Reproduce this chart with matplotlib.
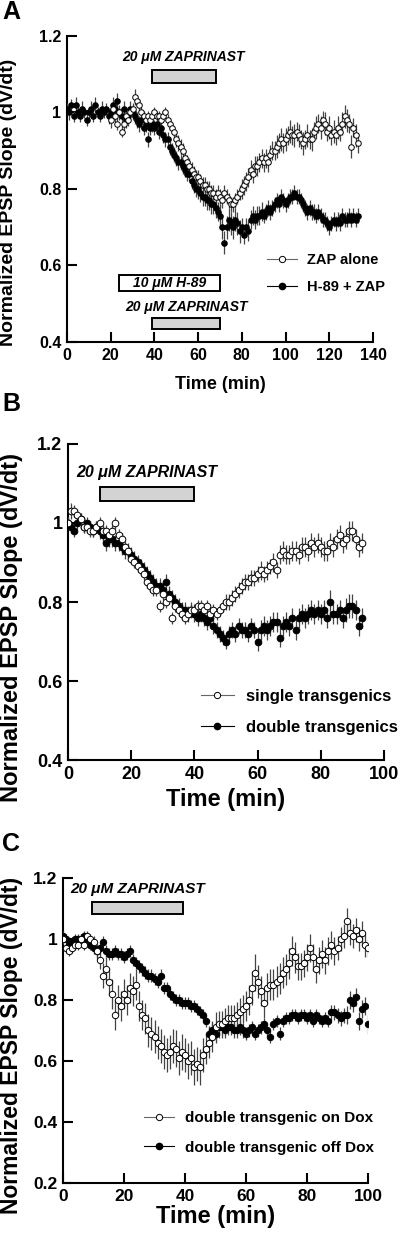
import numpy as np
import matplotlib
matplotlib.use("Agg")
from matplotlib import pyplot as plt
from matplotlib.patches import Rectangle
from matplotlib.lines import Line2D

plt.rcParams['font.family'] = ['Liberation Sans', 'DejaVu Sans']
plt.rcParams['font.weight'] = 'bold'

# ---------------- Panel A data ----------------
a_black_t = np.arange(0, 134)
a_black = [
    1.01, 1.00, 1.02, 0.99, 1.02, 1.00, 0.99, 1.01, 1.00, 0.98,
    1.00, 1.01, 0.99, 1.02, 1.00, 0.99, 1.01, 1.00, 1.01, 0.99,
    1.00, 1.02, 1.01, 1.03, 1.00, 0.99, 1.01, 0.98, 0.99, 1.01,
    1.00, 0.99, 0.98, 0.97, 0.98, 0.96, 0.97, 0.93, 0.96, 0.97,
    0.96, 0.97, 0.95, 0.96, 0.94, 0.93, 0.93, 0.91, 0.90, 0.89,
    0.88, 0.87, 0.87, 0.86, 0.85, 0.84, 0.84, 0.82, 0.81, 0.80,
    0.80, 0.79, 0.78, 0.78, 0.77, 0.77, 0.76, 0.76, 0.75, 0.74,
    0.73, 0.70, 0.66, 0.70, 0.72, 0.71, 0.70, 0.72, 0.71, 0.69,
    0.70, 0.68, 0.70, 0.69, 0.72, 0.73, 0.72, 0.73, 0.73, 0.74,
    0.73, 0.74, 0.75, 0.74, 0.75, 0.76, 0.77, 0.76, 0.78, 0.77,
    0.76, 0.77, 0.78, 0.78, 0.79, 0.78, 0.78, 0.77, 0.76, 0.75,
    0.74, 0.75, 0.74, 0.74, 0.73, 0.74, 0.73, 0.72, 0.72, 0.71,
    0.70, 0.71, 0.72, 0.71, 0.72, 0.71, 0.73, 0.72, 0.72, 0.73,
    0.72, 0.73, 0.72, 0.73,
]
a_black_err = [
    0.015, 0.020, 0.015, 0.015, 0.020, 0.015, 0.015, 0.020, 0.015, 0.015,
    0.015, 0.020, 0.015, 0.020, 0.015, 0.015, 0.020, 0.015, 0.015, 0.020,
    0.020, 0.020, 0.015, 0.020, 0.020, 0.015, 0.020, 0.020, 0.020, 0.020,
    0.020, 0.020, 0.020, 0.020, 0.020, 0.020, 0.020, 0.020, 0.020, 0.020,
    0.020, 0.020, 0.020, 0.020, 0.020, 0.020, 0.020, 0.020, 0.020, 0.020,
    0.020, 0.020, 0.020, 0.020, 0.020, 0.020, 0.020, 0.020, 0.020, 0.020,
    0.025, 0.025, 0.025, 0.025, 0.025, 0.025, 0.025, 0.025, 0.025, 0.025,
    0.030, 0.030, 0.030, 0.030, 0.030, 0.030, 0.030, 0.030, 0.030, 0.030,
    0.025, 0.025, 0.025, 0.025, 0.025, 0.025, 0.025, 0.025, 0.025, 0.025,
    0.020, 0.020, 0.020, 0.020, 0.020, 0.020, 0.020, 0.020, 0.020, 0.020,
    0.020, 0.020, 0.020, 0.020, 0.020, 0.020, 0.020, 0.020, 0.020, 0.020,
    0.020, 0.020, 0.020, 0.020, 0.020, 0.020, 0.020, 0.020, 0.020, 0.020,
    0.020, 0.020, 0.020, 0.020, 0.020, 0.020, 0.020, 0.020, 0.020, 0.020,
    0.020, 0.020, 0.020, 0.020,
]
a_open_t = np.arange(20, 134)
a_open = [
    0.98, 1.01, 0.99, 0.97, 1.00, 0.95, 0.97, 0.99, 0.98, 1.00,
    1.01, 1.04, 1.03, 1.02, 1.00, 0.99, 0.98, 0.99, 0.98, 0.99,
    1.00, 0.99, 0.99, 0.98, 0.99, 1.00, 0.98, 0.97, 0.96, 0.95,
    0.93, 0.92, 0.91, 0.90, 0.88, 0.87, 0.86, 0.85, 0.84, 0.83,
    0.83, 0.82, 0.81, 0.81, 0.80, 0.80, 0.79, 0.79, 0.78, 0.79,
    0.78, 0.77, 0.79, 0.78, 0.77, 0.76, 0.76, 0.77, 0.78, 0.79,
    0.80, 0.81, 0.82, 0.83, 0.85, 0.84, 0.86, 0.86, 0.87, 0.88,
    0.87, 0.88, 0.87, 0.89, 0.90, 0.90, 0.91, 0.92, 0.93, 0.92,
    0.93, 0.94, 0.95, 0.94, 0.94, 0.95, 0.94, 0.93, 0.92, 0.93,
    0.94, 0.93, 0.93, 0.95, 0.96, 0.97, 0.96, 0.98, 0.97, 0.95,
    0.96, 0.94, 0.95, 0.94, 0.96, 0.95, 0.97, 0.99, 0.98, 0.97,
    0.91, 0.96, 0.94, 0.92,
]
a_open_err = [
    0.020, 0.015, 0.015, 0.015, 0.015, 0.015, 0.015, 0.015, 0.015, 0.015,
    0.015, 0.020, 0.015, 0.015, 0.015, 0.015, 0.015, 0.015, 0.015, 0.015,
    0.015, 0.015, 0.015, 0.015, 0.015, 0.015, 0.015, 0.015, 0.015, 0.015,
    0.020, 0.020, 0.020, 0.020, 0.020, 0.020, 0.020, 0.020, 0.020, 0.020,
    0.020, 0.020, 0.020, 0.020, 0.020, 0.020, 0.020, 0.020, 0.020, 0.020,
    0.020, 0.020, 0.020, 0.020, 0.020, 0.020, 0.020, 0.020, 0.020, 0.020,
    0.025, 0.025, 0.025, 0.025, 0.025, 0.025, 0.025, 0.025, 0.025, 0.025,
    0.025, 0.025, 0.025, 0.025, 0.025, 0.025, 0.030, 0.025, 0.030, 0.025,
    0.030, 0.025, 0.030, 0.025, 0.030, 0.025, 0.030, 0.025, 0.030, 0.025,
    0.030, 0.025, 0.030, 0.025, 0.030, 0.025, 0.030, 0.025, 0.030, 0.025,
    0.030, 0.025, 0.030, 0.025, 0.030, 0.025, 0.030, 0.030, 0.030, 0.025,
    0.030, 0.025, 0.030, 0.025,
]

# ---------------- Panel B data ----------------
b_t = np.arange(0, 94)
b_open = [
    1.00, 1.03, 1.03, 1.02, 1.01, 0.99, 0.99, 0.98, 0.98, 0.99,
    1.00, 0.98, 0.98, 0.97, 0.98, 1.00, 0.97, 0.96, 0.94, 0.93,
    0.91, 0.90, 0.89, 0.88, 0.87, 0.85, 0.84, 0.83, 0.83, 0.79,
    0.82, 0.80, 0.81, 0.76, 0.79, 0.78, 0.77, 0.76, 0.77, 0.78,
    0.78, 0.79, 0.79, 0.78, 0.79, 0.77, 0.78, 0.77, 0.78, 0.79,
    0.80, 0.80, 0.81, 0.82, 0.83, 0.84, 0.85, 0.85, 0.86, 0.86,
    0.87, 0.88, 0.87, 0.88, 0.89, 0.90, 0.88, 0.92, 0.93, 0.92,
    0.92, 0.93, 0.93, 0.92, 0.94, 0.94, 0.93, 0.95, 0.94, 0.95,
    0.94, 0.93, 0.93, 0.95, 0.94, 0.96, 0.97, 0.95, 0.96, 0.98,
    0.98, 0.96, 0.94, 0.95,
]
b_open_err = [
    0.015, 0.020, 0.015, 0.015, 0.015, 0.015, 0.015, 0.015, 0.015, 0.015,
    0.015, 0.015, 0.015, 0.015, 0.015, 0.015, 0.015, 0.015, 0.015, 0.015,
    0.015, 0.015, 0.015, 0.015, 0.015, 0.015, 0.015, 0.015, 0.015, 0.015,
    0.015, 0.015, 0.015, 0.015, 0.015, 0.015, 0.015, 0.015, 0.015, 0.015,
    0.015, 0.015, 0.015, 0.015, 0.015, 0.015, 0.015, 0.015, 0.015, 0.015,
    0.020, 0.020, 0.020, 0.020, 0.020, 0.020, 0.020, 0.020, 0.020, 0.020,
    0.020, 0.025, 0.020, 0.025, 0.020, 0.025, 0.020, 0.025, 0.025, 0.025,
    0.025, 0.025, 0.025, 0.025, 0.025, 0.025, 0.025, 0.025, 0.025, 0.025,
    0.025, 0.025, 0.025, 0.025, 0.025, 0.025, 0.025, 0.025, 0.025, 0.025,
    0.025, 0.025, 0.025, 0.025,
]
b_black = [
    1.00, 0.99, 0.98, 1.00, 1.01, 0.99, 1.00, 0.99, 0.98, 0.99,
    0.98, 0.97, 0.95, 0.96, 0.96, 0.95, 0.95, 0.94, 0.93, 0.93,
    0.92, 0.91, 0.90, 0.89, 0.88, 0.87, 0.86, 0.85, 0.84, 0.84,
    0.83, 0.85, 0.82, 0.81, 0.80, 0.79, 0.78, 0.78, 0.77, 0.78,
    0.77, 0.76, 0.77, 0.76, 0.75, 0.76, 0.74, 0.73, 0.72, 0.71,
    0.70, 0.72, 0.73, 0.72, 0.74, 0.73, 0.73, 0.72, 0.74, 0.73,
    0.70, 0.73, 0.74, 0.73, 0.74, 0.75, 0.75, 0.71, 0.74, 0.75,
    0.74, 0.76, 0.73, 0.76, 0.77, 0.76, 0.77, 0.78, 0.77, 0.78,
    0.77, 0.78, 0.76, 0.80, 0.77, 0.77, 0.78, 0.76, 0.78, 0.79,
    0.79, 0.78, 0.74, 0.76,
]
b_black_err = [
    0.015, 0.015, 0.015, 0.015, 0.015, 0.015, 0.015, 0.015, 0.015, 0.015,
    0.020, 0.020, 0.020, 0.020, 0.020, 0.020, 0.020, 0.020, 0.020, 0.020,
    0.020, 0.020, 0.020, 0.020, 0.020, 0.020, 0.020, 0.020, 0.020, 0.020,
    0.020, 0.020, 0.020, 0.020, 0.020, 0.020, 0.020, 0.020, 0.020, 0.020,
    0.020, 0.020, 0.020, 0.020, 0.020, 0.020, 0.020, 0.020, 0.020, 0.020,
    0.020, 0.020, 0.020, 0.020, 0.020, 0.020, 0.020, 0.020, 0.020, 0.020,
    0.025, 0.025, 0.025, 0.025, 0.025, 0.025, 0.025, 0.025, 0.025, 0.025,
    0.025, 0.025, 0.025, 0.025, 0.025, 0.025, 0.025, 0.025, 0.025, 0.025,
    0.025, 0.025, 0.025, 0.030, 0.025, 0.025, 0.025, 0.025, 0.030, 0.030,
    0.030, 0.025, 0.025, 0.025,
]

# ---------------- Panel C data ----------------
c_t = np.arange(0, 101)
c_open = [
    1.00, 0.97, 0.96, 0.97, 0.98, 0.98, 1.00, 0.98, 1.01, 1.00,
    0.99, 0.96, 0.93, 0.88, 0.90, 0.86, 0.82, 0.75, 0.80, 0.78,
    0.82, 0.80, 0.84, 0.83, 0.85, 0.78, 0.75, 0.74, 0.70, 0.69,
    0.68, 0.66, 0.65, 0.63, 0.62, 0.63, 0.65, 0.64, 0.61, 0.63,
    0.62, 0.60, 0.61, 0.58, 0.59, 0.58, 0.62, 0.64, 0.66, 0.68,
    0.71, 0.72, 0.72, 0.73, 0.74, 0.74, 0.74, 0.75, 0.76, 0.77,
    0.78, 0.80, 0.84, 0.89, 0.86, 0.83, 0.79, 0.84, 0.85, 0.85,
    0.86, 0.87, 0.89, 0.90, 0.92, 0.96, 0.94, 0.91, 0.91, 0.92,
    0.94, 0.97, 0.94, 0.90, 0.93, 0.95, 0.93, 0.96, 0.98, 0.96,
    0.97, 1.00, 1.01, 1.06, 1.02, 1.01, 1.03, 1.00, 1.02, 0.98,
    0.97,
]
c_open_err = [
    0.015, 0.015, 0.015, 0.015, 0.015, 0.015, 0.015, 0.015, 0.015, 0.015,
    0.020, 0.025, 0.030, 0.040, 0.040, 0.045, 0.050, 0.050, 0.050, 0.050,
    0.050, 0.050, 0.050, 0.050, 0.050, 0.050, 0.050, 0.050, 0.055, 0.055,
    0.055, 0.055, 0.055, 0.055, 0.055, 0.055, 0.055, 0.060, 0.055, 0.060,
    0.055, 0.060, 0.055, 0.060, 0.055, 0.060, 0.055, 0.050, 0.050, 0.050,
    0.050, 0.045, 0.045, 0.045, 0.045, 0.045, 0.045, 0.045, 0.045, 0.045,
    0.050, 0.050, 0.055, 0.060, 0.055, 0.050, 0.050, 0.050, 0.050, 0.050,
    0.050, 0.050, 0.050, 0.050, 0.050, 0.050, 0.050, 0.045, 0.045, 0.045,
    0.045, 0.045, 0.045, 0.045, 0.045, 0.045, 0.045, 0.045, 0.045, 0.045,
    0.040, 0.040, 0.040, 0.040, 0.040, 0.040, 0.040, 0.040, 0.040, 0.040,
    0.030,
]
c_black = [
    1.01, 1.00, 0.98, 0.99, 1.00, 1.00, 1.00, 1.01, 1.00, 0.98,
    0.97, 0.96, 0.97, 0.99, 0.96, 0.95, 0.95, 0.96, 0.95, 0.95,
    0.94, 0.95, 0.96, 0.93, 0.92, 0.91, 0.90, 0.89, 0.88, 0.88,
    0.87, 0.86, 0.88, 0.84, 0.84, 0.82, 0.81, 0.80, 0.80, 0.79,
    0.79, 0.79, 0.78, 0.78, 0.77, 0.76, 0.75, 0.73, 0.69, 0.70,
    0.69, 0.71, 0.71, 0.70, 0.71, 0.71, 0.70, 0.70, 0.71, 0.70,
    0.69, 0.70, 0.71, 0.69, 0.70, 0.71, 0.72, 0.70, 0.68, 0.72,
    0.73, 0.69, 0.73, 0.74, 0.74, 0.75, 0.75, 0.74, 0.75, 0.75,
    0.74, 0.75, 0.73, 0.75, 0.74, 0.73, 0.74, 0.73, 0.76, 0.76,
    0.75, 0.74, 0.75, 0.75, 0.80, 0.79, 0.81, 0.73, 0.77, 0.78,
    0.72,
]
c_black_err = [
    0.015, 0.015, 0.015, 0.015, 0.015, 0.015, 0.015, 0.015, 0.015, 0.015,
    0.020, 0.020, 0.020, 0.020, 0.020, 0.020, 0.020, 0.020, 0.020, 0.020,
    0.020, 0.020, 0.020, 0.020, 0.020, 0.020, 0.020, 0.020, 0.020, 0.020,
    0.020, 0.020, 0.020, 0.020, 0.020, 0.020, 0.020, 0.020, 0.020, 0.020,
    0.020, 0.020, 0.020, 0.020, 0.020, 0.020, 0.020, 0.020, 0.025, 0.025,
    0.025, 0.025, 0.025, 0.025, 0.025, 0.025, 0.025, 0.025, 0.025, 0.025,
    0.020, 0.020, 0.020, 0.020, 0.020, 0.020, 0.020, 0.020, 0.020, 0.020,
    0.020, 0.020, 0.020, 0.020, 0.020, 0.020, 0.020, 0.020, 0.020, 0.020,
    0.020, 0.020, 0.020, 0.020, 0.020, 0.020, 0.020, 0.020, 0.025, 0.025,
    0.025, 0.025, 0.025, 0.030, 0.030, 0.030, 0.030, 0.030, 0.030, 0.030,
    0.030,
]

# drug application windows (min) and bar heights (normalized units)
a_zap_top = (39, 68, 1.077, 1.111)
a_h89 = (24, 70, 0.533, 0.575)
a_zap_bottom = (39, 70, 0.434, 0.463)
b_zap = (10, 40, 1.056, 1.091)
c_zap = (9.5, 39.5, 1.082, 1.121)

ylabel_text = 'Normalized EPSP Slope (dV/dt)'
zap_text = '20 \u03bcM ZAPRINAST'
h89_text = '10 \u03bcM H-89'


def drug_bar(ax, win, fill='#d3d3d3', label=None, label_y=None, fs=9, inside=None):
    x0, x1, y0, y1 = win
    ax.add_patch(Rectangle((x0, y0), x1 - x0, y1 - y0, facecolor=fill,
                           edgecolor='black', linewidth=1.4, zorder=5))
    if label is not None:
        ax.text((x0 + x1) / 2, label_y, label, ha='center', va='center',
                fontsize=fs, fontweight='bold', fontstyle='italic', zorder=6)
    if inside is not None:
        ax.text((x0 + x1) / 2, (y0 + y1) / 2, inside, ha='center', va='center',
                fontsize=fs, fontweight='bold', fontstyle='italic', zorder=6)


def series(ax, t, y, err, filled, ms):
    ax.errorbar(t, y, yerr=err, fmt='o', ms=ms, mfc='black' if filled else 'white',
                mec='black', mew=0.7, ecolor='#444444', elinewidth=0.9,
                capsize=0, zorder=3)


def style_axes(ax, xlim, ylim, xticks, yticks, fs):
    ax.set_xlim(*xlim)
    ax.set_ylim(*ylim)
    ax.set_xticks(xticks)
    ax.set_yticks(yticks)
    ax.set_yticklabels(['%g' % v for v in yticks])
    for s in ['top', 'right']:
        ax.spines[s].set_visible(False)
    for s in ['left', 'bottom']:
        ax.spines[s].set_linewidth(1.5)
    ax.tick_params(direction='in', length=7, width=1.5, labelsize=fs, pad=4)
    for lab in ax.get_xticklabels() + ax.get_yticklabels():
        lab.set_fontweight('bold')


def legend(ax, labels, fs, anchor, spacing):
    handles = [
        Line2D([], [], color='#666666', lw=0.8, marker='o', ms=4.5,
               mfc='white', mec='black', mew=0.7),
        Line2D([], [], color='black', lw=0.8, marker='o', ms=4.5,
               mfc='black', mec='black'),
    ]
    ax.legend(handles, labels, loc='upper left', bbox_to_anchor=anchor,
              frameon=False, handlelength=2.0, handletextpad=0.7,
              borderpad=0, borderaxespad=0, labelspacing=spacing,
              prop={'weight': 'bold', 'size': fs})


fig = plt.figure(figsize=(4.0, 12.35), dpi=100)

# Panel A
axA = fig.add_axes([0.1675, 0.7231, 0.765, 0.2478])
series(axA, a_black_t, a_black, a_black_err, True, 4.0)
series(axA, a_open_t, a_open, a_open_err, False, 4.0)
style_axes(axA, (0, 140), (0.4, 1.2), [0, 20, 40, 60, 80, 100, 120, 140],
           [0.4, 0.6, 0.8, 1.0, 1.2], 11.5)
axA.set_ylabel(ylabel_text, fontsize=14, fontweight='bold')
axA.yaxis.set_label_coords(-0.162, 0.457)
axA.set_xlabel('Time (min)', fontsize=13, fontweight='bold', labelpad=10)
drug_bar(axA, a_zap_top, label=zap_text, label_y=1.145, fs=10)
drug_bar(axA, a_h89, fill='white', inside=h89_text, fs=10)
drug_bar(axA, a_zap_bottom, label=zap_text, label_y=0.491, fs=10)
legend(axA, ['ZAP alone', 'H-89 + ZAP'], 10.5, (0.655, 0.29), 0.9)
fig.text(0.005, 0.990, 'A', fontsize=18, fontweight='bold', va='center')

# Panel B
axB = fig.add_axes([0.17, 0.3846, 0.79, 0.2559])
series(axB, b_t, b_black, b_black_err, True, 4.8)
series(axB, b_t, b_open, b_open_err, False, 4.8)
style_axes(axB, (0, 100), (0.4, 1.2), [0, 20, 40, 60, 80, 100],
           [0.4, 0.6, 0.8, 1.0, 1.2], 13)
axB.set_ylabel(ylabel_text, fontsize=17, fontweight='bold')
axB.yaxis.set_label_coords(-0.143, 0.42)
axB.set_xlabel('Time (min)', fontsize=17, fontweight='bold', labelpad=4)
drug_bar(axB, b_zap, label=zap_text, label_y=1.127, fs=11.5)
legend(axB, ['single transgenics', 'double transgenics'], 12, (0.42, 0.225), 0.95)
fig.text(0.005, 0.673, 'B', fontsize=18, fontweight='bold', va='center')

# Panel C
axC = fig.add_axes([0.1575, 0.0421, 0.7625, 0.247])
series(axC, c_t, c_black, c_black_err, True, 4.6)
series(axC, c_t, c_open, c_open_err, False, 4.6)
style_axes(axC, (0, 100), (0.2, 1.2), [0, 20, 40, 60, 80, 100],
           [0.2, 0.4, 0.6, 0.8, 1.0, 1.2], 12.5)
axC.set_ylabel(ylabel_text, fontsize=16.5, fontweight='bold')
axC.yaxis.set_label_coords(-0.132, 0.452)
axC.set_xlabel('Time (min)', fontsize=17, fontweight='bold', labelpad=1)
drug_bar(axC, c_zap, label=zap_text, label_y=1.164, fs=11)
legend(axC, ['double transgenic on Dox', 'double transgenic off Dox'], 11, (0.265, 0.235), 1.0)
fig.text(0.005, 0.317, 'C', fontsize=18, fontweight='bold', va='center')

fig.savefig('out.png', dpi=100)
